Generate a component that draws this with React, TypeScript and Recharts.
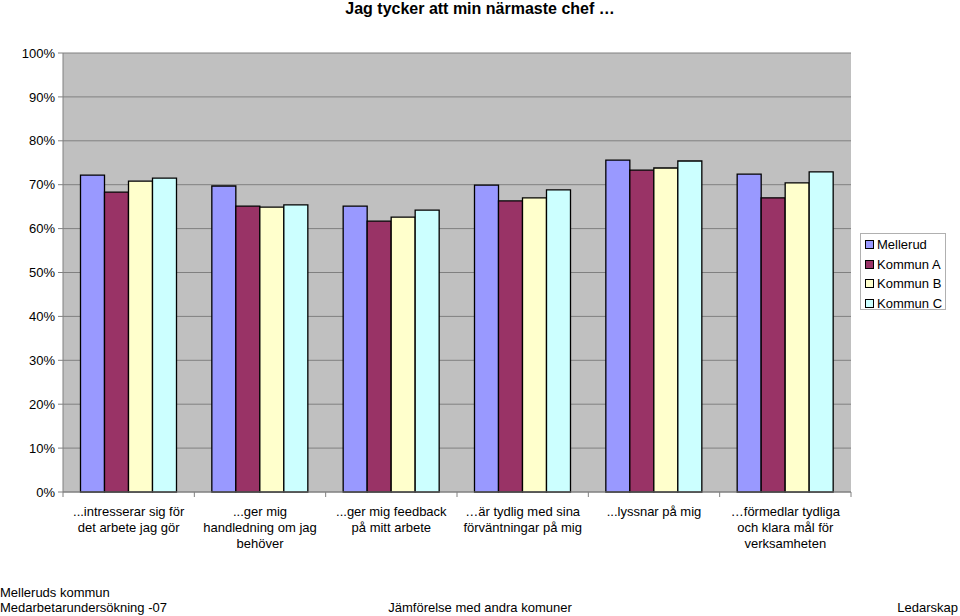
import { Bar, BarChart, CartesianGrid, XAxis, YAxis } from "recharts";

const categories = [
  "...intresserar sig för\ndet arbete jag gör",
  "...ger mig\nhandledning om jag\nbehöver",
  "...ger mig feedback\npå mitt arbete",
  "…är tydlig med sina\nförväntningar på mig",
  "...lyssnar på mig",
  "…förmedlar tydliga\noch klara mål för\nverksamheten",
];

const mellerud = [72.2, 69.7, 65.1, 69.9, 75.6, 72.4];
const kommunA = [68.3, 65.1, 61.7, 66.3, 73.3, 67.0];
const kommunB = [70.8, 64.9, 62.6, 67.0, 73.8, 70.4];
const kommunC = [71.5, 65.4, 64.2, 68.8, 75.4, 72.9];

const seriesNames = ["Mellerud", "Kommun A", "Kommun B", "Kommun C"];
const seriesColors = ["#9999FF", "#993366", "#FFFFCC", "#CCFFFF"];
const yTicks = [0, 10, 20, 30, 40, 50, 60, 70, 80, 90, 100];

const data = categories.map((name, i) => ({
  name,
  s0: mellerud[i],
  s1: kommunA[i],
  s2: kommunB[i],
  s3: kommunC[i],
}));

const FONT = "'Liberation Sans', Arial, sans-serif";
const W = 960;
const H = 616;
const LEFT = 63;
const RIGHT = 109;
const step = (W - LEFT - RIGHT) / categories.length;

function CategoryTick(props: any) {
  const { x, y, payload, index } = props;
  const lines = String(payload.value).split("\n");
  return (
    <g>
      <line x1={x - step / 2} x2={x - step / 2} y1={y} y2={y + 5} stroke="#808080" />
      {index === categories.length - 1 && (
        <line x1={x + step / 2} x2={x + step / 2} y1={y} y2={y + 5} stroke="#808080" />
      )}
      <text textAnchor="middle" fontSize={13} fontFamily={FONT} fill="#000">
        {lines.map((l: string, i: number) => (
          <tspan key={i} x={x} y={y + 24 + i * 16}>
            {l}
          </tspan>
        ))}
      </text>
    </g>
  );
}

const abs = (s: any) => ({ position: "absolute" as const, fontFamily: FONT, fontSize: 13, color: "#000", lineHeight: "15px", whiteSpace: "nowrap" as const, ...s });

export default function App() {
  return (
    <div style={{ position: "absolute", left: 0, top: 0, width: W, height: H, background: "#fff" }}>
      <div style={abs({ left: 0, width: W, top: 0, textAlign: "center", fontWeight: "bold", fontSize: 16, lineHeight: "18px" })}>
        Jag tycker att min närmaste chef …
      </div>
      <BarChart
        width={W}
        height={H}
        data={data}
        margin={{ top: 53, right: RIGHT, bottom: 64, left: 0 }}
        barCategoryGap={17.5}
        barGap={0}
      >
        <CartesianGrid vertical={false} fill="#C0C0C0" stroke="#808080" fillOpacity={1} />
        <XAxis
          dataKey="name"
          height={60}
          interval={0}
          tickLine={false}
          tickSize={0}
          tickMargin={0}
          axisLine={{ stroke: "#808080" }}
          tick={<CategoryTick />}
        />
        <YAxis
          width={LEFT}
          domain={[0, 100]}
          ticks={yTicks}
          tickFormatter={(v: number) => v + "%"}
          tickSize={5}
          tickMargin={3}
          tickLine={{ stroke: "#808080" }}
          axisLine={{ stroke: "#808080" }}
          tick={{ fontSize: 13, fill: "#000", fontFamily: FONT }}
        />
        <YAxis
          yAxisId="right"
          orientation="right"
          width={0}
          domain={[0, 100]}
          tick={false}
          tickLine={false}
          axisLine={{ stroke: "#808080" }}
        />
        {seriesNames.map((n, i) => (
          <Bar
            key={n}
            dataKey={"s" + i}
            name={n}
            fill={seriesColors[i]}
            stroke="#000"
            strokeWidth={1.3}
            isAnimationActive={false}
          />
        ))}
      </BarChart>
      <div
        style={{
          position: "absolute",
          left: 860,
          top: 233,
          width: 86,
          height: 77,
          background: "#fff",
          border: "1px solid #B0B0B0",
          boxSizing: "border-box",
        }}
      >
        {seriesNames.map((n, i) => (
          <div key={n} style={abs({ left: 4, top: 3 + i * 19.5, display: "flex", alignItems: "center" })}>
            <span
              style={{
                display: "inline-block",
                width: 7,
                height: 7,
                background: seriesColors[i],
                border: "1px solid #000",
                marginRight: 3,
              }}
            />
            {n}
          </div>
        ))}
      </div>
      <div style={abs({ left: 0, top: 585 })}>Melleruds kommun</div>
      <div style={abs({ left: 0, top: 600 })}>Medarbetarundersökning -07</div>
      <div style={abs({ left: 0, width: W, top: 600, textAlign: "center" })}>Jämförelse med andra komuner</div>
      <div style={abs({ right: 2, top: 600 })}>Ledarskap</div>
    </div>
  );
}
